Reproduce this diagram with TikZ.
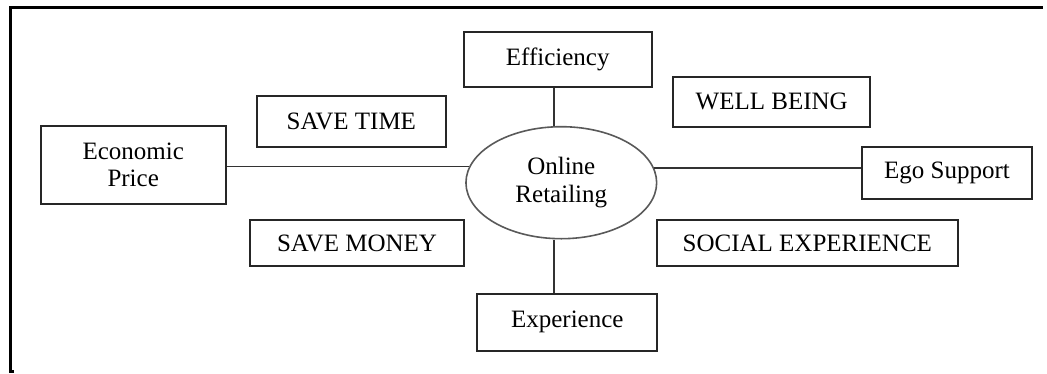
\documentclass[tikz,border=0pt]{standalone}
\usepackage{fontspec}
\setmainfont{Liberation Serif}
\usetikzlibrary{shapes.geometric}
\begin{document}
\begin{tikzpicture}[x=1pt,y=-1pt,
  box/.style={draw=black!85,line width=2pt,rectangle,inner sep=0pt,align=center,
    font=\fontsize{25}{27.5}\selectfont},
  hub/.style={draw=black!65,line width=1.6pt,ellipse,inner sep=0pt,align=center,
    font=\fontsize{25}{28}\selectfont},
  link/.style={draw=black!80,line width=1.9pt},
  border/.style={draw=black,line width=2.8pt}]
\useasboundingbox (0,0) rectangle (1047,373);

% outer frame (open on the right and bottom)
\coordinate (fa) at (14,371.6);
\coordinate (fb) at (10.5,371.6);
\coordinate (fc) at (10.5,7.5);
\coordinate (fd) at (1043,7.5);
\draw[border] (fa) -- (fb) -- (fc) -- (fd);

% central hub
\node[hub,minimum width=190.7pt,minimum height=112pt] (ell) at (561.3,182.7) {Online\\Retailing};

% connected boxes
\node[box,minimum width=185pt,minimum height=77.7pt] (econ) at (133.2,164.9) {Economic\\Price};
\node[box,minimum width=188pt,minimum height=55pt] (eff) at (557.7,59.8) {Efficiency};
\node[box,minimum width=180pt,minimum height=56.7pt] (exp) at (567.3,322.3) {Experience};
\node[box,minimum width=170.6pt,minimum height=51.7pt] (ego) at (947,172.8) {Ego Support};

% free-standing boxes
\node[box,minimum width=189.3pt,minimum height=51pt] (stime) at (351.3,121.8) {SAVE TIME};
\node[box,minimum width=214.6pt,minimum height=46pt] (smoney) at (357,243) {SAVE MONEY};
\node[box,minimum width=196.7pt,minimum height=49.7pt] (well) at (771.7,101.8) {WELL BEING};
\node[box,minimum width=300.7pt,minimum height=46pt] (social) at (807.3,243) {SOCIAL EXPERIENCE};

% connectors
\coordinate (vx) at (554.3,0);
\draw[link] (ell.170.7) -- (ell.170.7 -| econ.east);
\draw[link] (ell.9.3) -- (ell.9.3 -| ego.west);
\draw[link] (vx |- eff.south) -- (vx |- ell.north);
\draw[link] (vx |- ell.south) -- (vx |- exp.north);
\end{tikzpicture}
\end{document}
